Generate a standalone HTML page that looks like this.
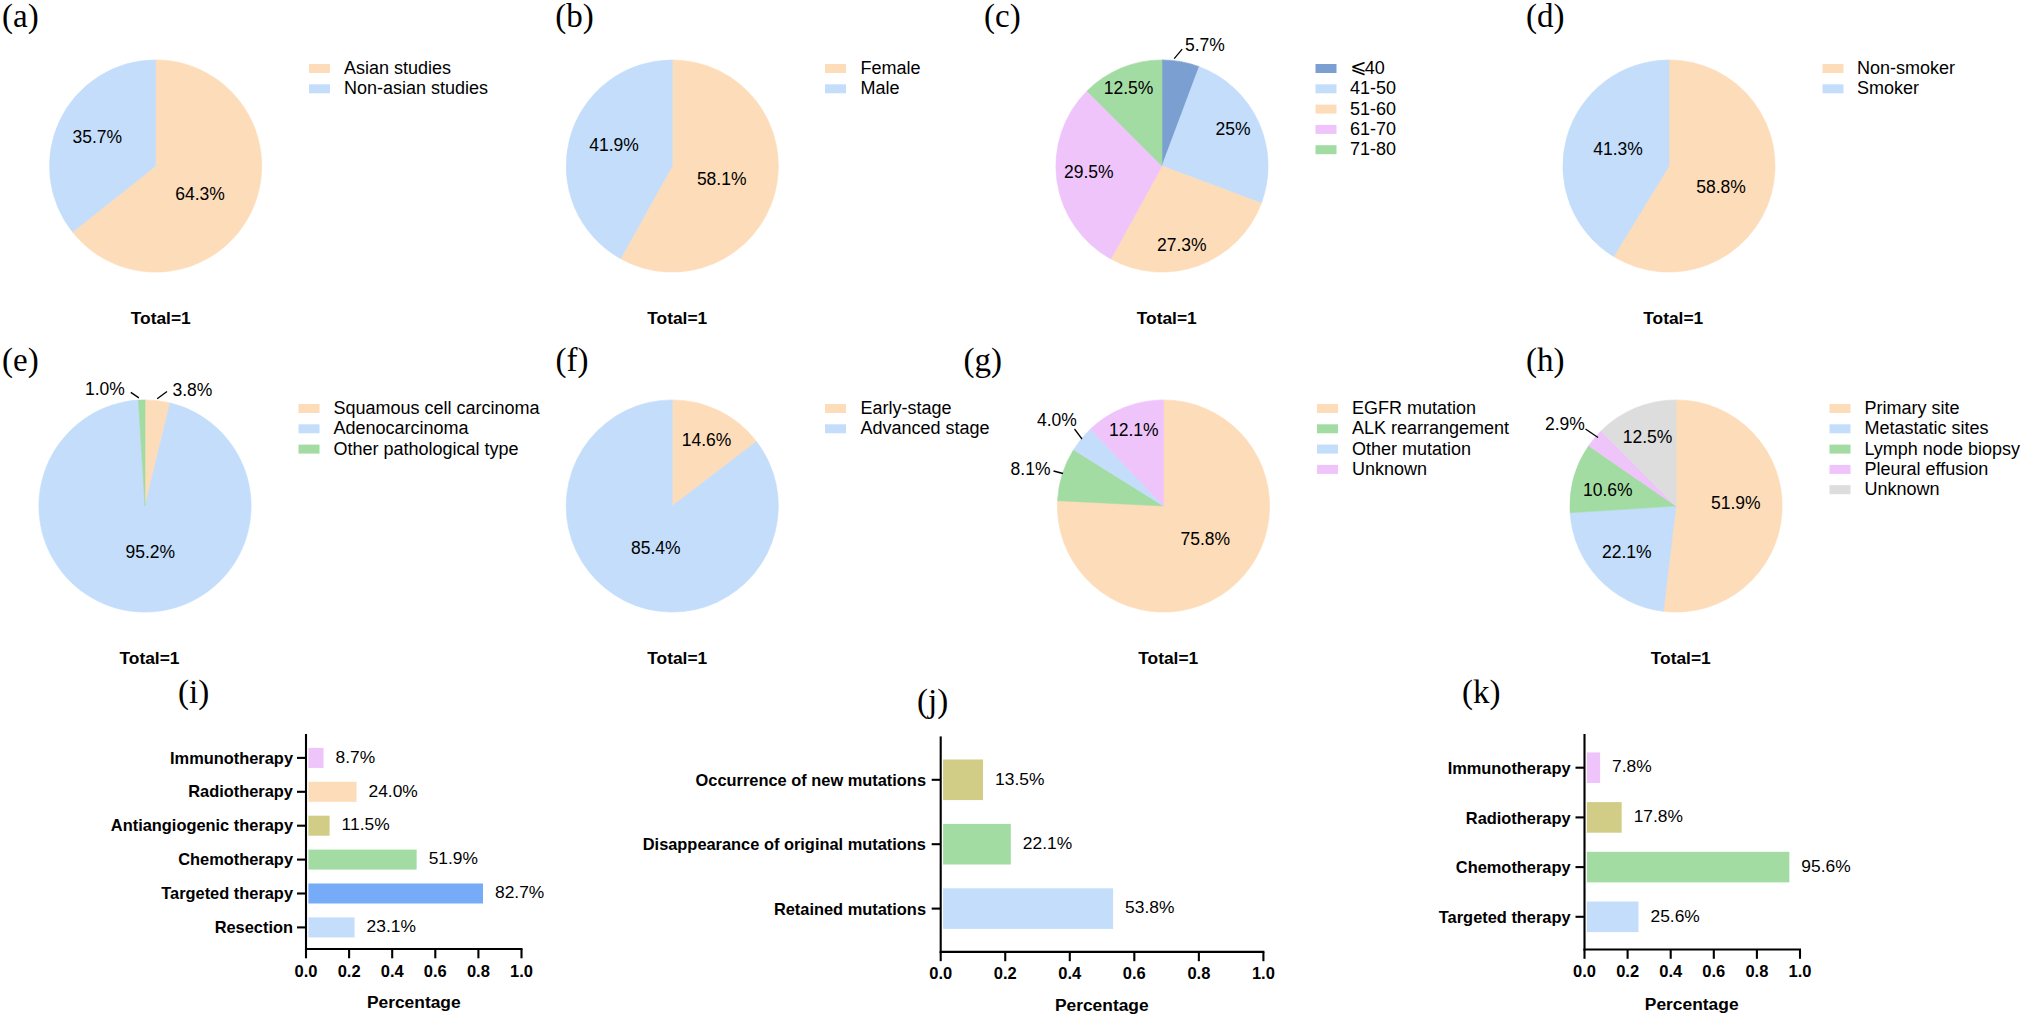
<!DOCTYPE html>
<html><head><meta charset="utf-8"><title>Figure</title>
<style>html,body{margin:0;padding:0;background:#fff}svg{display:block}text{fill:#000}</style></head>
<body><svg width="2024" height="1018" viewBox="0 0 2024 1018">
<rect width="2024" height="1018" fill="#fff"/>
<text x="2" y="27" font-size="33" text-anchor="start" font-weight="normal" font-family='"Liberation Serif", "Times New Roman", Times, serif' >(a)</text>
<path d="M155.60 166.00L155.60 59.90A106.1 106.1 0 1 1 72.59 232.08Z" fill="#FDDCB9" stroke="#FDDCB9" stroke-width="0.6"/>
<path d="M155.60 166.00L72.59 232.08A106.1 106.1 0 0 1 155.60 59.90Z" fill="#C3DDFB" stroke="#C3DDFB" stroke-width="0.6"/>
<text x="97.3" y="142.5" font-size="17.5" text-anchor="middle" font-weight="normal" font-family='"Liberation Sans", Arial, Helvetica, sans-serif' >35.7%</text>
<text x="200" y="200" font-size="17.5" text-anchor="middle" font-weight="normal" font-family='"Liberation Sans", Arial, Helvetica, sans-serif' >64.3%</text>
<rect x="309" y="64.00" width="21" height="9" fill="#FDDCB9"/>
<text x="344" y="74.0" font-size="18" text-anchor="start" font-weight="normal" font-family='"Liberation Sans", Arial, Helvetica, sans-serif' >Asian studies</text>
<rect x="309" y="84.30" width="21" height="9" fill="#C3DDFB"/>
<text x="344" y="94.3" font-size="18" text-anchor="start" font-weight="normal" font-family='"Liberation Sans", Arial, Helvetica, sans-serif' >Non-asian studies</text>
<text x="160.75" y="323.5" font-size="17.4" text-anchor="middle" font-weight="bold" font-family='"Liberation Sans", Arial, Helvetica, sans-serif' >Total=1</text>
<text x="555.3" y="27" font-size="33" text-anchor="start" font-weight="normal" font-family='"Liberation Serif", "Times New Roman", Times, serif' >(b)</text>
<path d="M672.25 166.00L672.25 59.90A106.1 106.1 0 1 1 620.55 258.65Z" fill="#FDDCB9" stroke="#FDDCB9" stroke-width="0.6"/>
<path d="M672.25 166.00L620.55 258.65A106.1 106.1 0 0 1 672.25 59.90Z" fill="#C3DDFB" stroke="#C3DDFB" stroke-width="0.6"/>
<text x="614" y="151" font-size="17.5" text-anchor="middle" font-weight="normal" font-family='"Liberation Sans", Arial, Helvetica, sans-serif' >41.9%</text>
<text x="721.7" y="185" font-size="17.5" text-anchor="middle" font-weight="normal" font-family='"Liberation Sans", Arial, Helvetica, sans-serif' >58.1%</text>
<rect x="825" y="64.00" width="21" height="9" fill="#FDDCB9"/>
<text x="860.5" y="74.0" font-size="18" text-anchor="start" font-weight="normal" font-family='"Liberation Sans", Arial, Helvetica, sans-serif' >Female</text>
<rect x="825" y="84.30" width="21" height="9" fill="#C3DDFB"/>
<text x="860.5" y="94.3" font-size="18" text-anchor="start" font-weight="normal" font-family='"Liberation Sans", Arial, Helvetica, sans-serif' >Male</text>
<text x="677.25" y="323.5" font-size="17.4" text-anchor="middle" font-weight="bold" font-family='"Liberation Sans", Arial, Helvetica, sans-serif' >Total=1</text>
<text x="984" y="27" font-size="33" text-anchor="start" font-weight="normal" font-family='"Liberation Serif", "Times New Roman", Times, serif' >(c)</text>
<path d="M1162.00 166.00L1162.00 59.90A106.1 106.1 0 0 1 1199.19 66.63Z" fill="#7C9FD1" stroke="#7C9FD1" stroke-width="0.6"/>
<path d="M1162.00 166.00L1199.19 66.63A106.1 106.1 0 0 1 1261.37 203.19Z" fill="#C3DDFB" stroke="#C3DDFB" stroke-width="0.6"/>
<path d="M1162.00 166.00L1261.37 203.19A106.1 106.1 0 0 1 1110.89 258.98Z" fill="#FDDCB9" stroke="#FDDCB9" stroke-width="0.6"/>
<path d="M1162.00 166.00L1110.89 258.98A106.1 106.1 0 0 1 1086.98 90.98Z" fill="#EEC4FB" stroke="#EEC4FB" stroke-width="0.6"/>
<path d="M1162.00 166.00L1086.98 90.98A106.1 106.1 0 0 1 1162.00 59.90Z" fill="#A2DCA3" stroke="#A2DCA3" stroke-width="0.6"/>
<text x="1185" y="51.0" font-size="17.5" text-anchor="start" font-weight="normal" font-family='"Liberation Sans", Arial, Helvetica, sans-serif' >5.7%</text>
<line x1="1174.2" y1="58.6" x2="1182.2" y2="49.2" stroke="#000" stroke-width="1.3"/>
<text x="1128.5" y="93.5" font-size="17.5" text-anchor="middle" font-weight="normal" font-family='"Liberation Sans", Arial, Helvetica, sans-serif' >12.5%</text>
<text x="1233" y="135.0" font-size="17.5" text-anchor="middle" font-weight="normal" font-family='"Liberation Sans", Arial, Helvetica, sans-serif' >25%</text>
<text x="1088.75" y="177.5" font-size="17.5" text-anchor="middle" font-weight="normal" font-family='"Liberation Sans", Arial, Helvetica, sans-serif' >29.5%</text>
<text x="1181.75" y="251.0" font-size="17.5" text-anchor="middle" font-weight="normal" font-family='"Liberation Sans", Arial, Helvetica, sans-serif' >27.3%</text>
<rect x="1315.5" y="64.00" width="21" height="9" fill="#7C9FD1"/>
<text x="1350" y="74.0" font-size="18" text-anchor="start" font-weight="normal" font-family='"Liberation Sans", Arial, Helvetica, sans-serif' ><tspan font-family='"DejaVu Sans", "Liberation Sans", sans-serif' font-size="19.5" dx="0.3" dy="-0.8">⩽</tspan><tspan x="1364.8" dy="0.8">40</tspan></text>
<rect x="1315.5" y="84.30" width="21" height="9" fill="#C3DDFB"/>
<text x="1350" y="94.3" font-size="18" text-anchor="start" font-weight="normal" font-family='"Liberation Sans", Arial, Helvetica, sans-serif' >41-50</text>
<rect x="1315.5" y="104.60" width="21" height="9" fill="#FDDCB9"/>
<text x="1350" y="114.6" font-size="18" text-anchor="start" font-weight="normal" font-family='"Liberation Sans", Arial, Helvetica, sans-serif' >51-60</text>
<rect x="1315.5" y="124.90" width="21" height="9" fill="#EEC4FB"/>
<text x="1350" y="134.9" font-size="18" text-anchor="start" font-weight="normal" font-family='"Liberation Sans", Arial, Helvetica, sans-serif' >61-70</text>
<rect x="1315.5" y="145.20" width="21" height="9" fill="#A2DCA3"/>
<text x="1350" y="155.2" font-size="18" text-anchor="start" font-weight="normal" font-family='"Liberation Sans", Arial, Helvetica, sans-serif' >71-80</text>
<text x="1166.75" y="323.5" font-size="17.4" text-anchor="middle" font-weight="bold" font-family='"Liberation Sans", Arial, Helvetica, sans-serif' >Total=1</text>
<text x="1526" y="27" font-size="33" text-anchor="start" font-weight="normal" font-family='"Liberation Serif", "Times New Roman", Times, serif' >(d)</text>
<path d="M1669.00 166.00L1669.00 59.90A106.1 106.1 0 1 1 1613.61 256.50Z" fill="#FDDCB9" stroke="#FDDCB9" stroke-width="0.6"/>
<path d="M1669.00 166.00L1613.61 256.50A106.1 106.1 0 0 1 1669.00 59.90Z" fill="#C3DDFB" stroke="#C3DDFB" stroke-width="0.6"/>
<text x="1618" y="155.2" font-size="17.5" text-anchor="middle" font-weight="normal" font-family='"Liberation Sans", Arial, Helvetica, sans-serif' >41.3%</text>
<text x="1721" y="192.7" font-size="17.5" text-anchor="middle" font-weight="normal" font-family='"Liberation Sans", Arial, Helvetica, sans-serif' >58.8%</text>
<rect x="1822.5" y="64.00" width="21" height="9" fill="#FDDCB9"/>
<text x="1857" y="74.0" font-size="18" text-anchor="start" font-weight="normal" font-family='"Liberation Sans", Arial, Helvetica, sans-serif' >Non-smoker</text>
<rect x="1822.5" y="84.30" width="21" height="9" fill="#C3DDFB"/>
<text x="1857" y="94.3" font-size="18" text-anchor="start" font-weight="normal" font-family='"Liberation Sans", Arial, Helvetica, sans-serif' >Smoker</text>
<text x="1673.25" y="323.5" font-size="17.4" text-anchor="middle" font-weight="bold" font-family='"Liberation Sans", Arial, Helvetica, sans-serif' >Total=1</text>
<text x="2" y="370.6" font-size="33" text-anchor="start" font-weight="normal" font-family='"Liberation Serif", "Times New Roman", Times, serif' >(e)</text>
<path d="M145.00 506.00L145.00 399.90A106.1 106.1 0 0 1 170.09 402.91Z" fill="#FDDCB9" stroke="#FDDCB9" stroke-width="0.6"/>
<path d="M145.00 506.00L170.09 402.91A106.1 106.1 0 1 1 138.34 400.11Z" fill="#C3DDFB" stroke="#C3DDFB" stroke-width="0.6"/>
<path d="M145.00 506.00L138.34 400.11A106.1 106.1 0 0 1 145.00 399.90Z" fill="#A2DCA3" stroke="#A2DCA3" stroke-width="0.6"/>
<text x="85" y="394.8" font-size="17.5" text-anchor="start" font-weight="normal" font-family='"Liberation Sans", Arial, Helvetica, sans-serif' >1.0%</text>
<line x1="130.8" y1="392.4" x2="138.9" y2="397.9" stroke="#000" stroke-width="1.3"/>
<text x="172.5" y="396.2" font-size="17.5" text-anchor="start" font-weight="normal" font-family='"Liberation Sans", Arial, Helvetica, sans-serif' >3.8%</text>
<line x1="157.2" y1="398.8" x2="167" y2="391.4" stroke="#000" stroke-width="1.3"/>
<text x="150.25" y="558.0" font-size="17.5" text-anchor="middle" font-weight="normal" font-family='"Liberation Sans", Arial, Helvetica, sans-serif' >95.2%</text>
<rect x="298.5" y="404.00" width="21" height="9" fill="#FDDCB9"/>
<text x="333.5" y="414.0" font-size="18" text-anchor="start" font-weight="normal" font-family='"Liberation Sans", Arial, Helvetica, sans-serif' >Squamous cell carcinoma</text>
<rect x="298.5" y="424.30" width="21" height="9" fill="#C3DDFB"/>
<text x="333.5" y="434.3" font-size="18" text-anchor="start" font-weight="normal" font-family='"Liberation Sans", Arial, Helvetica, sans-serif' >Adenocarcinoma</text>
<rect x="298.5" y="444.60" width="21" height="9" fill="#A2DCA3"/>
<text x="333.5" y="454.6" font-size="18" text-anchor="start" font-weight="normal" font-family='"Liberation Sans", Arial, Helvetica, sans-serif' >Other pathological type</text>
<text x="149.5" y="663.5" font-size="17.4" text-anchor="middle" font-weight="bold" font-family='"Liberation Sans", Arial, Helvetica, sans-serif' >Total=1</text>
<text x="555.5" y="370.8" font-size="33" text-anchor="start" font-weight="normal" font-family='"Liberation Serif", "Times New Roman", Times, serif' >(f)</text>
<path d="M672.25 506.00L672.25 399.90A106.1 106.1 0 0 1 756.49 441.50Z" fill="#FDDCB9" stroke="#FDDCB9" stroke-width="0.6"/>
<path d="M672.25 506.00L756.49 441.50A106.1 106.1 0 1 1 672.25 399.90Z" fill="#C3DDFB" stroke="#C3DDFB" stroke-width="0.6"/>
<text x="706.5" y="445.5" font-size="17.5" text-anchor="middle" font-weight="normal" font-family='"Liberation Sans", Arial, Helvetica, sans-serif' >14.6%</text>
<text x="655.75" y="554.0" font-size="17.5" text-anchor="middle" font-weight="normal" font-family='"Liberation Sans", Arial, Helvetica, sans-serif' >85.4%</text>
<rect x="825" y="404.00" width="21" height="9" fill="#FDDCB9"/>
<text x="860.5" y="414.0" font-size="18" text-anchor="start" font-weight="normal" font-family='"Liberation Sans", Arial, Helvetica, sans-serif' >Early-stage</text>
<rect x="825" y="424.30" width="21" height="9" fill="#C3DDFB"/>
<text x="860.5" y="434.3" font-size="18" text-anchor="start" font-weight="normal" font-family='"Liberation Sans", Arial, Helvetica, sans-serif' >Advanced stage</text>
<text x="677.25" y="663.5" font-size="17.4" text-anchor="middle" font-weight="bold" font-family='"Liberation Sans", Arial, Helvetica, sans-serif' >Total=1</text>
<text x="963.4" y="370.8" font-size="33" text-anchor="start" font-weight="normal" font-family='"Liberation Serif", "Times New Roman", Times, serif' >(g)</text>
<path d="M1163.50 506.00L1163.50 399.90A106.1 106.1 0 1 1 1057.53 500.67Z" fill="#FDDCB9" stroke="#FDDCB9" stroke-width="0.6"/>
<path d="M1163.50 506.00L1057.53 500.67A106.1 106.1 0 0 1 1073.56 449.71Z" fill="#A2DCA3" stroke="#A2DCA3" stroke-width="0.6"/>
<path d="M1163.50 506.00L1073.56 449.71A106.1 106.1 0 0 1 1090.39 429.11Z" fill="#C3DDFB" stroke="#C3DDFB" stroke-width="0.6"/>
<path d="M1163.50 506.00L1090.39 429.11A106.1 106.1 0 0 1 1163.50 399.90Z" fill="#EEC4FB" stroke="#EEC4FB" stroke-width="0.6"/>
<text x="1133.75" y="435.5" font-size="17.5" text-anchor="middle" font-weight="normal" font-family='"Liberation Sans", Arial, Helvetica, sans-serif' >12.1%</text>
<text x="1037" y="426.1" font-size="17.5" text-anchor="start" font-weight="normal" font-family='"Liberation Sans", Arial, Helvetica, sans-serif' >4.0%</text>
<line x1="1074.5" y1="429" x2="1082" y2="439" stroke="#000" stroke-width="1.3"/>
<text x="1050.5" y="474.5" font-size="17.5" text-anchor="end" font-weight="normal" font-family='"Liberation Sans", Arial, Helvetica, sans-serif' >8.1%</text>
<line x1="1053.5" y1="471" x2="1063" y2="473.5" stroke="#000" stroke-width="1.3"/>
<text x="1205.25" y="544.5" font-size="17.5" text-anchor="middle" font-weight="normal" font-family='"Liberation Sans", Arial, Helvetica, sans-serif' >75.8%</text>
<rect x="1317" y="404.00" width="21" height="9" fill="#FDDCB9"/>
<text x="1352" y="414.0" font-size="18" text-anchor="start" font-weight="normal" font-family='"Liberation Sans", Arial, Helvetica, sans-serif' >EGFR mutation</text>
<rect x="1317" y="424.30" width="21" height="9" fill="#A2DCA3"/>
<text x="1352" y="434.3" font-size="18" text-anchor="start" font-weight="normal" font-family='"Liberation Sans", Arial, Helvetica, sans-serif' >ALK rearrangement</text>
<rect x="1317" y="444.60" width="21" height="9" fill="#C3DDFB"/>
<text x="1352" y="454.6" font-size="18" text-anchor="start" font-weight="normal" font-family='"Liberation Sans", Arial, Helvetica, sans-serif' >Other mutation</text>
<rect x="1317" y="464.90" width="21" height="9" fill="#EEC4FB"/>
<text x="1352" y="474.9" font-size="18" text-anchor="start" font-weight="normal" font-family='"Liberation Sans", Arial, Helvetica, sans-serif' >Unknown</text>
<text x="1168.25" y="663.5" font-size="17.4" text-anchor="middle" font-weight="bold" font-family='"Liberation Sans", Arial, Helvetica, sans-serif' >Total=1</text>
<text x="1526" y="370.8" font-size="33" text-anchor="start" font-weight="normal" font-family='"Liberation Serif", "Times New Roman", Times, serif' >(h)</text>
<path d="M1676.00 506.00L1676.00 399.90A106.1 106.1 0 1 1 1663.36 611.34Z" fill="#FDDCB9" stroke="#FDDCB9" stroke-width="0.6"/>
<path d="M1676.00 506.00L1663.36 611.34A106.1 106.1 0 0 1 1570.11 512.66Z" fill="#C3DDFB" stroke="#C3DDFB" stroke-width="0.6"/>
<path d="M1676.00 506.00L1570.11 512.66A106.1 106.1 0 0 1 1588.62 445.81Z" fill="#A2DCA3" stroke="#A2DCA3" stroke-width="0.6"/>
<path d="M1676.00 506.00L1588.62 445.81A106.1 106.1 0 0 1 1600.98 430.98Z" fill="#EEC4FB" stroke="#EEC4FB" stroke-width="0.6"/>
<path d="M1676.00 506.00L1600.98 430.98A106.1 106.1 0 0 1 1676.00 399.90Z" fill="#DDDDDD" stroke="#DDDDDD" stroke-width="0.6"/>
<text x="1545" y="429.5" font-size="17.5" text-anchor="start" font-weight="normal" font-family='"Liberation Sans", Arial, Helvetica, sans-serif' >2.9%</text>
<line x1="1585.5" y1="429" x2="1598" y2="437.5" stroke="#000" stroke-width="1.3"/>
<text x="1647.5" y="443.0" font-size="17.5" text-anchor="middle" font-weight="normal" font-family='"Liberation Sans", Arial, Helvetica, sans-serif' >12.5%</text>
<text x="1607.75" y="496.0" font-size="17.5" text-anchor="middle" font-weight="normal" font-family='"Liberation Sans", Arial, Helvetica, sans-serif' >10.6%</text>
<text x="1735.75" y="508.5" font-size="17.5" text-anchor="middle" font-weight="normal" font-family='"Liberation Sans", Arial, Helvetica, sans-serif' >51.9%</text>
<text x="1626.75" y="558.0" font-size="17.5" text-anchor="middle" font-weight="normal" font-family='"Liberation Sans", Arial, Helvetica, sans-serif' >22.1%</text>
<rect x="1829.5" y="404.00" width="21" height="9" fill="#FDDCB9"/>
<text x="1864.5" y="414.0" font-size="18" text-anchor="start" font-weight="normal" font-family='"Liberation Sans", Arial, Helvetica, sans-serif' >Primary site</text>
<rect x="1829.5" y="424.30" width="21" height="9" fill="#C3DDFB"/>
<text x="1864.5" y="434.3" font-size="18" text-anchor="start" font-weight="normal" font-family='"Liberation Sans", Arial, Helvetica, sans-serif' >Metastatic sites</text>
<rect x="1829.5" y="444.60" width="21" height="9" fill="#A2DCA3"/>
<text x="1864.5" y="454.6" font-size="18" text-anchor="start" font-weight="normal" font-family='"Liberation Sans", Arial, Helvetica, sans-serif' >Lymph node biopsy</text>
<rect x="1829.5" y="464.90" width="21" height="9" fill="#EEC4FB"/>
<text x="1864.5" y="474.9" font-size="18" text-anchor="start" font-weight="normal" font-family='"Liberation Sans", Arial, Helvetica, sans-serif' >Pleural effusion</text>
<rect x="1829.5" y="485.20" width="21" height="9" fill="#DDDDDD"/>
<text x="1864.5" y="495.2" font-size="18" text-anchor="start" font-weight="normal" font-family='"Liberation Sans", Arial, Helvetica, sans-serif' >Unknown</text>
<text x="1680.75" y="663.5" font-size="17.4" text-anchor="middle" font-weight="bold" font-family='"Liberation Sans", Arial, Helvetica, sans-serif' >Total=1</text>
<text x="178" y="703" font-size="33" text-anchor="start" font-weight="normal" font-family='"Liberation Serif", "Times New Roman", Times, serif' >(i)</text>
<rect x="308.40" y="747.90" width="15.15" height="20" fill="#EEC4FB"/>
<line x1="297" y1="757.9" x2="306" y2="757.9" stroke="#000" stroke-width="2.1"/>
<text x="293" y="763.5" font-size="16.4" text-anchor="end" font-weight="bold" font-family='"Liberation Sans", Arial, Helvetica, sans-serif' >Immunotherapy</text>
<text x="335.55" y="762.6" font-size="17.4" text-anchor="start" font-weight="normal" font-family='"Liberation Sans", Arial, Helvetica, sans-serif' >8.7%</text>
<rect x="308.40" y="781.80" width="48.12" height="20" fill="#FDDCB9"/>
<line x1="297" y1="791.8" x2="306" y2="791.8" stroke="#000" stroke-width="2.1"/>
<text x="293" y="797.4" font-size="16.4" text-anchor="end" font-weight="bold" font-family='"Liberation Sans", Arial, Helvetica, sans-serif' >Radiotherapy</text>
<text x="368.52" y="796.5" font-size="17.4" text-anchor="start" font-weight="normal" font-family='"Liberation Sans", Arial, Helvetica, sans-serif' >24.0%</text>
<rect x="308.40" y="815.70" width="21.18" height="20" fill="#D1CC86"/>
<line x1="297" y1="825.6999999999999" x2="306" y2="825.6999999999999" stroke="#000" stroke-width="2.1"/>
<text x="293" y="831.3" font-size="16.4" text-anchor="end" font-weight="bold" font-family='"Liberation Sans", Arial, Helvetica, sans-serif' >Antiangiogenic therapy</text>
<text x="341.58" y="830.4" font-size="17.4" text-anchor="start" font-weight="normal" font-family='"Liberation Sans", Arial, Helvetica, sans-serif' >11.5%</text>
<rect x="308.40" y="849.60" width="108.24" height="20" fill="#A2DCA3"/>
<line x1="297" y1="859.5999999999999" x2="306" y2="859.5999999999999" stroke="#000" stroke-width="2.1"/>
<text x="293" y="865.2" font-size="16.4" text-anchor="end" font-weight="bold" font-family='"Liberation Sans", Arial, Helvetica, sans-serif' >Chemotherapy</text>
<text x="428.64" y="864.3" font-size="17.4" text-anchor="start" font-weight="normal" font-family='"Liberation Sans", Arial, Helvetica, sans-serif' >51.9%</text>
<rect x="308.40" y="883.50" width="174.62" height="20" fill="#76ABF8"/>
<line x1="297" y1="893.5" x2="306" y2="893.5" stroke="#000" stroke-width="2.1"/>
<text x="293" y="899.1" font-size="16.4" text-anchor="end" font-weight="bold" font-family='"Liberation Sans", Arial, Helvetica, sans-serif' >Targeted therapy</text>
<text x="495.02" y="898.2" font-size="17.4" text-anchor="start" font-weight="normal" font-family='"Liberation Sans", Arial, Helvetica, sans-serif' >82.7%</text>
<rect x="308.40" y="917.40" width="46.18" height="20" fill="#C3DDFB"/>
<line x1="297" y1="927.4" x2="306" y2="927.4" stroke="#000" stroke-width="2.1"/>
<text x="293" y="933.0" font-size="16.4" text-anchor="end" font-weight="bold" font-family='"Liberation Sans", Arial, Helvetica, sans-serif' >Resection</text>
<text x="366.58" y="932.1" font-size="17.4" text-anchor="start" font-weight="normal" font-family='"Liberation Sans", Arial, Helvetica, sans-serif' >23.1%</text>
<line x1="306" y1="734" x2="306" y2="950" stroke="#000" stroke-width="2.1"/>
<line x1="305" y1="949" x2="522.5" y2="949" stroke="#000" stroke-width="2.1"/>
<line x1="306.0" y1="949" x2="306.0" y2="958.3" stroke="#000" stroke-width="2.1"/>
<text x="306.0" y="976.5" font-size="16.5" text-anchor="middle" font-weight="bold" font-family='"Liberation Sans", Arial, Helvetica, sans-serif' >0.0</text>
<line x1="349.1" y1="949" x2="349.1" y2="958.3" stroke="#000" stroke-width="2.1"/>
<text x="349.1" y="976.5" font-size="16.5" text-anchor="middle" font-weight="bold" font-family='"Liberation Sans", Arial, Helvetica, sans-serif' >0.2</text>
<line x1="392.2" y1="949" x2="392.2" y2="958.3" stroke="#000" stroke-width="2.1"/>
<text x="392.2" y="976.5" font-size="16.5" text-anchor="middle" font-weight="bold" font-family='"Liberation Sans", Arial, Helvetica, sans-serif' >0.4</text>
<line x1="435.3" y1="949" x2="435.3" y2="958.3" stroke="#000" stroke-width="2.1"/>
<text x="435.3" y="976.5" font-size="16.5" text-anchor="middle" font-weight="bold" font-family='"Liberation Sans", Arial, Helvetica, sans-serif' >0.6</text>
<line x1="478.4" y1="949" x2="478.4" y2="958.3" stroke="#000" stroke-width="2.1"/>
<text x="478.4" y="976.5" font-size="16.5" text-anchor="middle" font-weight="bold" font-family='"Liberation Sans", Arial, Helvetica, sans-serif' >0.8</text>
<line x1="521.5" y1="949" x2="521.5" y2="958.3" stroke="#000" stroke-width="2.1"/>
<text x="521.5" y="976.5" font-size="16.5" text-anchor="middle" font-weight="bold" font-family='"Liberation Sans", Arial, Helvetica, sans-serif' >1.0</text>
<text x="413.8" y="1008" font-size="17.4" text-anchor="middle" font-weight="bold" font-family='"Liberation Sans", Arial, Helvetica, sans-serif' >Percentage</text>
<text x="917" y="711.7" font-size="33" text-anchor="start" font-weight="normal" font-family='"Liberation Serif", "Times New Roman", Times, serif' >(j)</text>
<rect x="943.10" y="759.50" width="39.96" height="40.6" fill="#D1CC86"/>
<line x1="931.7" y1="779.8" x2="940.7" y2="779.8" stroke="#000" stroke-width="2.1"/>
<text x="926" y="786.0" font-size="16.4" text-anchor="end" font-weight="bold" font-family='"Liberation Sans", Arial, Helvetica, sans-serif' >Occurrence of new mutations</text>
<text x="995.06" y="784.5" font-size="17.4" text-anchor="start" font-weight="normal" font-family='"Liberation Sans", Arial, Helvetica, sans-serif' >13.5%</text>
<rect x="943.10" y="823.90" width="67.72" height="40.6" fill="#A2DCA3"/>
<line x1="931.7" y1="844.1999999999999" x2="940.7" y2="844.1999999999999" stroke="#000" stroke-width="2.1"/>
<text x="926" y="850.4" font-size="16.4" text-anchor="end" font-weight="bold" font-family='"Liberation Sans", Arial, Helvetica, sans-serif' >Disappearance of original mutations</text>
<text x="1022.82" y="848.9" font-size="17.4" text-anchor="start" font-weight="normal" font-family='"Liberation Sans", Arial, Helvetica, sans-serif' >22.1%</text>
<rect x="943.10" y="888.30" width="170.01" height="40.6" fill="#C3DDFB"/>
<line x1="931.7" y1="908.5999999999999" x2="940.7" y2="908.5999999999999" stroke="#000" stroke-width="2.1"/>
<text x="926" y="914.8" font-size="16.4" text-anchor="end" font-weight="bold" font-family='"Liberation Sans", Arial, Helvetica, sans-serif' >Retained mutations</text>
<text x="1125.11" y="913.3" font-size="17.4" text-anchor="start" font-weight="normal" font-family='"Liberation Sans", Arial, Helvetica, sans-serif' >53.8%</text>
<line x1="940.7" y1="736.4" x2="940.7" y2="952.9" stroke="#000" stroke-width="2.1"/>
<line x1="939.7" y1="951.9" x2="1264.4" y2="951.9" stroke="#000" stroke-width="2.1"/>
<line x1="940.7" y1="951.9" x2="940.7" y2="961.1999999999999" stroke="#000" stroke-width="2.1"/>
<text x="940.7" y="978.5" font-size="16.5" text-anchor="middle" font-weight="bold" font-family='"Liberation Sans", Arial, Helvetica, sans-serif' >0.0</text>
<line x1="1005.24" y1="951.9" x2="1005.24" y2="961.1999999999999" stroke="#000" stroke-width="2.1"/>
<text x="1005.24" y="978.5" font-size="16.5" text-anchor="middle" font-weight="bold" font-family='"Liberation Sans", Arial, Helvetica, sans-serif' >0.2</text>
<line x1="1069.78" y1="951.9" x2="1069.78" y2="961.1999999999999" stroke="#000" stroke-width="2.1"/>
<text x="1069.78" y="978.5" font-size="16.5" text-anchor="middle" font-weight="bold" font-family='"Liberation Sans", Arial, Helvetica, sans-serif' >0.4</text>
<line x1="1134.32" y1="951.9" x2="1134.32" y2="961.1999999999999" stroke="#000" stroke-width="2.1"/>
<text x="1134.32" y="978.5" font-size="16.5" text-anchor="middle" font-weight="bold" font-family='"Liberation Sans", Arial, Helvetica, sans-serif' >0.6</text>
<line x1="1198.8600000000001" y1="951.9" x2="1198.8600000000001" y2="961.1999999999999" stroke="#000" stroke-width="2.1"/>
<text x="1198.86" y="978.5" font-size="16.5" text-anchor="middle" font-weight="bold" font-family='"Liberation Sans", Arial, Helvetica, sans-serif' >0.8</text>
<line x1="1263.4" y1="951.9" x2="1263.4" y2="961.1999999999999" stroke="#000" stroke-width="2.1"/>
<text x="1263.4" y="978.5" font-size="16.5" text-anchor="middle" font-weight="bold" font-family='"Liberation Sans", Arial, Helvetica, sans-serif' >1.0</text>
<text x="1101.8" y="1010.7" font-size="17.4" text-anchor="middle" font-weight="bold" font-family='"Liberation Sans", Arial, Helvetica, sans-serif' >Percentage</text>
<text x="1462" y="703" font-size="33" text-anchor="start" font-weight="normal" font-family='"Liberation Serif", "Times New Roman", Times, serif' >(k)</text>
<rect x="1586.90" y="752.40" width="13.21" height="30.6" fill="#EEC4FB"/>
<line x1="1575.5" y1="767.7" x2="1584.5" y2="767.7" stroke="#000" stroke-width="2.1"/>
<text x="1570.6" y="773.9" font-size="16.4" text-anchor="end" font-weight="bold" font-family='"Liberation Sans", Arial, Helvetica, sans-serif' >Immunotherapy</text>
<text x="1612.11" y="772.4" font-size="17.4" text-anchor="start" font-weight="normal" font-family='"Liberation Sans", Arial, Helvetica, sans-serif' >7.8%</text>
<rect x="1586.90" y="802.10" width="34.76" height="30.6" fill="#D1CC86"/>
<line x1="1575.5" y1="817.4000000000001" x2="1584.5" y2="817.4000000000001" stroke="#000" stroke-width="2.1"/>
<text x="1570.6" y="823.6" font-size="16.4" text-anchor="end" font-weight="bold" font-family='"Liberation Sans", Arial, Helvetica, sans-serif' >Radiotherapy</text>
<text x="1633.66" y="822.1" font-size="17.4" text-anchor="start" font-weight="normal" font-family='"Liberation Sans", Arial, Helvetica, sans-serif' >17.8%</text>
<rect x="1586.90" y="851.80" width="202.42" height="30.6" fill="#A2DCA3"/>
<line x1="1575.5" y1="867.1" x2="1584.5" y2="867.1" stroke="#000" stroke-width="2.1"/>
<text x="1570.6" y="873.3" font-size="16.4" text-anchor="end" font-weight="bold" font-family='"Liberation Sans", Arial, Helvetica, sans-serif' >Chemotherapy</text>
<text x="1801.32" y="871.8" font-size="17.4" text-anchor="start" font-weight="normal" font-family='"Liberation Sans", Arial, Helvetica, sans-serif' >95.6%</text>
<rect x="1586.90" y="901.50" width="51.57" height="30.6" fill="#C3DDFB"/>
<line x1="1575.5" y1="916.8000000000001" x2="1584.5" y2="916.8000000000001" stroke="#000" stroke-width="2.1"/>
<text x="1570.6" y="923.0" font-size="16.4" text-anchor="end" font-weight="bold" font-family='"Liberation Sans", Arial, Helvetica, sans-serif' >Targeted therapy</text>
<text x="1650.47" y="921.5" font-size="17.4" text-anchor="start" font-weight="normal" font-family='"Liberation Sans", Arial, Helvetica, sans-serif' >25.6%</text>
<line x1="1584.5" y1="734" x2="1584.5" y2="950.5" stroke="#000" stroke-width="2.1"/>
<line x1="1583.5" y1="949.5" x2="1801.0" y2="949.5" stroke="#000" stroke-width="2.1"/>
<line x1="1584.5" y1="949.5" x2="1584.5" y2="958.8" stroke="#000" stroke-width="2.1"/>
<text x="1584.5" y="976.5" font-size="16.5" text-anchor="middle" font-weight="bold" font-family='"Liberation Sans", Arial, Helvetica, sans-serif' >0.0</text>
<line x1="1627.6" y1="949.5" x2="1627.6" y2="958.8" stroke="#000" stroke-width="2.1"/>
<text x="1627.6" y="976.5" font-size="16.5" text-anchor="middle" font-weight="bold" font-family='"Liberation Sans", Arial, Helvetica, sans-serif' >0.2</text>
<line x1="1670.7" y1="949.5" x2="1670.7" y2="958.8" stroke="#000" stroke-width="2.1"/>
<text x="1670.7" y="976.5" font-size="16.5" text-anchor="middle" font-weight="bold" font-family='"Liberation Sans", Arial, Helvetica, sans-serif' >0.4</text>
<line x1="1713.8" y1="949.5" x2="1713.8" y2="958.8" stroke="#000" stroke-width="2.1"/>
<text x="1713.8" y="976.5" font-size="16.5" text-anchor="middle" font-weight="bold" font-family='"Liberation Sans", Arial, Helvetica, sans-serif' >0.6</text>
<line x1="1756.9" y1="949.5" x2="1756.9" y2="958.8" stroke="#000" stroke-width="2.1"/>
<text x="1756.9" y="976.5" font-size="16.5" text-anchor="middle" font-weight="bold" font-family='"Liberation Sans", Arial, Helvetica, sans-serif' >0.8</text>
<line x1="1800.0" y1="949.5" x2="1800.0" y2="958.8" stroke="#000" stroke-width="2.1"/>
<text x="1800.0" y="976.5" font-size="16.5" text-anchor="middle" font-weight="bold" font-family='"Liberation Sans", Arial, Helvetica, sans-serif' >1.0</text>
<text x="1691.7" y="1009.7" font-size="17.4" text-anchor="middle" font-weight="bold" font-family='"Liberation Sans", Arial, Helvetica, sans-serif' >Percentage</text>
</svg></body></html>
